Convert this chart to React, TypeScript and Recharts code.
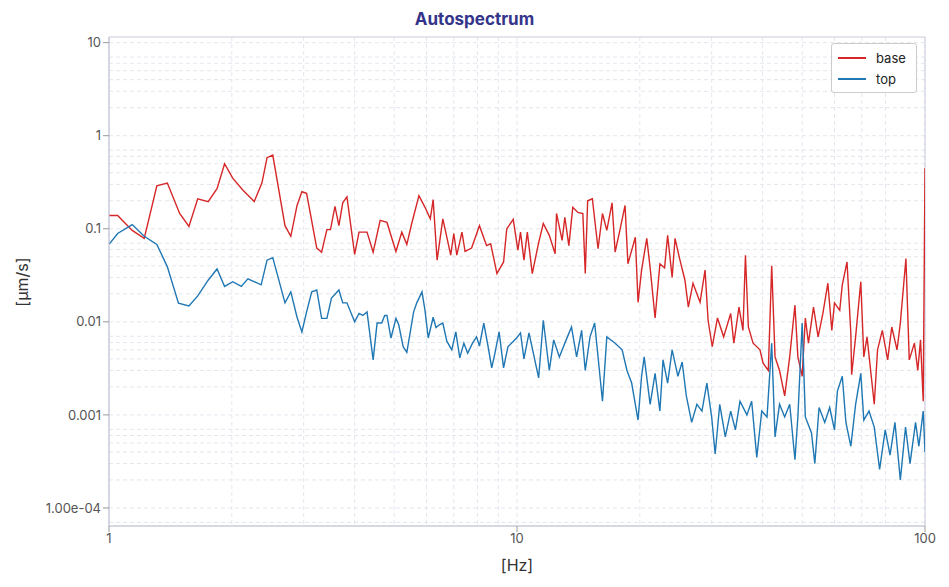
import { CartesianGrid, Line, LineChart, ReferenceArea, XAxis, YAxis } from "recharts";

const baseFreq = [1.0, 1.05, 1.14, 1.22, 1.31, 1.39, 1.49, 1.57, 1.65, 1.75, 1.84, 1.92, 2.01, 2.13, 2.27, 2.37, 2.44, 2.52, 2.7, 2.79, 2.89, 2.97, 3.05, 3.23, 3.32, 3.42, 3.49, 3.58, 3.66, 3.74, 3.83, 4.0, 4.1, 4.29, 4.44, 4.62, 4.8, 5.05, 5.22, 5.37, 5.52, 5.75, 5.95, 6.13, 6.23, 6.37, 6.58, 6.88, 7.0, 7.12, 7.33, 7.46, 7.74, 8.09, 8.42, 8.62, 8.93, 9.27, 9.44, 9.79, 10.05,
  10.2, 10.4, 10.6, 10.9, 11.3, 11.6, 12.0, 12.4, 12.5, 12.9, 13.1, 13.4, 13.7, 14.1, 14.5, 14.7, 14.9, 15.3, 15.8, 16.2, 16.6, 17.1, 17.4, 17.9, 18.4, 18.7, 19.5, 19.8, 20.2, 20.8, 21.2, 21.8, 22.4, 23.0, 23.4, 24.0, 24.4, 25.0, 25.8, 26.3, 27.0, 28.1, 28.9, 29.4, 30.1, 31.0, 32.1, 33.4, 34.0, 35.0, 35.8, 36.3, 36.9, 37.9, 39.4, 40.1, 41.3, 42.1, 42.9, 44.0, 45.3, 46.6, 48.0, 48.8, 50.0, 50.9, 51.8, 53.3, 54.7, 56.2, 57.8, 59.1, 60.0, 61.8, 62.7, 64.4, 65.8, 66.1, 67.6, 69.6, 70.8, 72.1, 75.1, 76.5, 78.6, 81.0, 82.9, 85.4, 87.0, 89.8, 91.5, 94.2, 96.0, 97.5, 99.0, 100];
const baseVal = [0.139, 0.139, 0.096, 0.079, 0.29, 0.31, 0.146, 0.106, 0.21, 0.196, 0.27, 0.5, 0.35, 0.26, 0.196, 0.31, 0.58, 0.62, 0.108, 0.083, 0.178, 0.25, 0.24, 0.062, 0.056, 0.098, 0.098, 0.174, 0.108, 0.19, 0.22, 0.053, 0.092, 0.092, 0.056, 0.123, 0.117, 0.057, 0.092, 0.068, 0.114, 0.227, 0.17, 0.128, 0.206, 0.046, 0.128, 0.052, 0.089, 0.052, 0.092, 0.057, 0.062, 0.108, 0.066, 0.069, 0.033, 0.044, 0.1, 0.126, 0.059,
  0.092, 0.046, 0.092, 0.033, 0.071, 0.114, 0.085, 0.054, 0.146, 0.075, 0.133, 0.066, 0.17, 0.15, 0.146, 0.033, 0.2, 0.21, 0.061, 0.146, 0.096, 0.19, 0.056, 0.1, 0.178, 0.042, 0.081, 0.0162, 0.036, 0.079, 0.038, 0.011, 0.042, 0.038, 0.085, 0.03, 0.079, 0.049, 0.028, 0.0144, 0.026, 0.0162, 0.036, 0.0104, 0.0054, 0.011, 0.0069, 0.0123, 0.0059, 0.0144, 0.0081, 0.052, 0.0088, 0.0059, 0.005, 0.0036, 0.003, 0.04, 0.0042, 0.003, 0.0016, 0.0042, 0.0151, 0.0042, 0.0026, 0.011, 0.0059, 0.0144, 0.0069, 0.0123, 0.026, 0.0081, 0.016, 0.0133, 0.025, 0.044, 0.0075, 0.0027, 0.0069, 0.027, 0.0042, 0.0069, 0.0013, 0.005, 0.0081, 0.0039, 0.0088, 0.005, 0.0097, 0.048, 0.0039, 0.0059, 0.003, 0.0064, 0.0014, 0.45];

const topFreq = [1.0, 1.05, 1.14, 1.22, 1.31, 1.39, 1.48, 1.57, 1.65, 1.75, 1.84, 1.92, 2.01, 2.11, 2.19, 2.36, 2.44, 2.52, 2.7, 2.79, 2.89, 2.97, 3.05, 3.14, 3.23, 3.32, 3.42, 3.51, 3.66, 3.74, 3.83, 4.0, 4.1, 4.19, 4.29, 4.44, 4.54, 4.66, 4.74, 4.8, 4.91, 5.05, 5.13, 5.26, 5.37, 5.58, 5.68, 5.85, 5.95, 6.06, 6.23, 6.33, 6.45, 6.58, 6.73, 6.92, 7.08, 7.24, 7.41, 7.57, 7.78, 7.96, 8.09, 8.29, 8.49, 8.67, 8.82, 9.04, 9.27, 9.5, 9.98,
  10.2, 10.4, 10.7, 11.3, 11.6, 12.0, 12.3, 12.7, 13.2, 13.6, 14.0, 14.4, 14.7, 15.1, 15.5, 16.2, 16.6, 17.4, 18.1, 18.6, 19.1, 19.8, 20.2, 20.5, 21.2, 21.8, 22.4, 22.8, 23.4, 24.0, 24.8, 25.4, 26.0, 26.8, 27.6, 28.4, 29.2, 30.0, 30.6, 31.4, 32.4, 33.4, 34.3, 35.2, 36.6, 37.6, 38.7, 39.8, 41.0, 42.1, 42.9, 44.0, 45.3, 46.6, 48.0, 48.8, 50.0, 50.9, 52.7, 53.7, 55.0, 56.8, 58.4, 60.0, 61.0, 62.7, 64.0, 65.8, 67.6, 69.6, 70.8, 72.9, 75.1, 77.4, 79.9, 82.1, 84.4, 87.0, 89.6, 91.9, 94.8, 96.6, 99.0, 100];
const topVal = [0.068, 0.089, 0.111, 0.083, 0.068, 0.039, 0.0159, 0.0148, 0.019, 0.028, 0.037, 0.024, 0.027, 0.024, 0.029, 0.025, 0.046, 0.049, 0.016, 0.021, 0.0112, 0.0078, 0.0128, 0.021, 0.022, 0.0109, 0.0109, 0.018, 0.022, 0.016, 0.016, 0.01, 0.0123, 0.0117, 0.0128, 0.0039, 0.0097, 0.0097, 0.0117, 0.0117, 0.0067, 0.0109, 0.0093, 0.0054, 0.0047, 0.0128, 0.016, 0.021, 0.0133, 0.0067, 0.0112, 0.0087, 0.0093, 0.0097, 0.0062, 0.005, 0.0078, 0.0041, 0.0059, 0.0046, 0.0059, 0.0069, 0.0055, 0.0097, 0.0055, 0.0032, 0.0045, 0.0078, 0.0032, 0.0054, 0.0067,
  0.0076, 0.004, 0.0076, 0.0025, 0.0104, 0.003, 0.0064, 0.0042, 0.0064, 0.0088, 0.0042, 0.0081, 0.003, 0.0069, 0.0097, 0.0014, 0.0069, 0.0059, 0.005, 0.003, 0.0022, 0.00088, 0.0026, 0.0042, 0.0013, 0.0028, 0.0011, 0.0039, 0.0022, 0.005, 0.0026, 0.0037, 0.0016, 0.00083, 0.0013, 0.0011, 0.0022, 0.00095, 0.00038, 0.0013, 0.00058, 0.0011, 0.00069, 0.0014, 0.001, 0.0014, 0.00035, 0.0011, 0.00095, 0.0059, 0.00058, 0.0013, 0.00095, 0.0013, 0.00033, 0.00095, 0.0097, 0.00095, 0.00064, 0.0003, 0.0012, 0.00083, 0.0012, 0.00069, 0.0018, 0.0026, 0.00083, 0.00046, 0.0013, 0.0028, 0.00088, 0.0011, 0.00074, 0.00026, 0.00069, 0.00037, 0.00083, 0.0002, 0.00074, 0.0003, 0.00083, 0.00046, 0.0011, 0.0004];

const xTicks = [1, 10, 100];
const yTicks = [1e-4, 0.001, 0.01, 0.1, 1, 10];
const yLabels = ["1.00e-04", "0.001", "0.01", "0.1", "1", "10"];

const baseData = baseFreq.map((f, i) => ({ f, v: baseVal[i] }));
const topData = topFreq.map((f, i) => ({ f, v: topVal[i] }));

const Y_MIN = 6.4e-5;
const Y_MAX = 11.5;

// minor grid values for log axes
const minorX: number[] = [];
[1, 10].forEach((d) => [1, 2, 3, 4, 5, 6, 7, 8, 9].forEach((m) => minorX.push(d * m)));
minorX.push(100);
const minorY: number[] = [];
[1e-5, 1e-4, 1e-3, 1e-2, 0.1, 1, 10].forEach((d) =>
  [1, 2, 3, 4, 5, 6, 7, 8, 9].forEach((m) => {
    const v = d * m;
    if (v >= Y_MIN && v <= Y_MAX) minorY.push(v);
  })
);

const font = "Inter, 'Noto Sans', sans-serif";

export default function App() {
  return (
    <div style={{ position: "absolute", left: 0, top: 0, width: 949, height: 587, background: "#fff", fontFamily: font }}>
      <div style={{ position: "absolute", top: 9, width: 949, textAlign: "center", fontWeight: 700, fontSize: 17, color: "#34348a" }}>
        Autospectrum
      </div>
      <div style={{ position: "absolute", top: 555, left: 109, width: 816, textAlign: "center", fontSize: 16, color: "#333" }}>
        [Hz]
      </div>
      <div style={{ position: "absolute", left: 22, top: 282, transform: "translate(-50%, -50%) rotate(-90deg)", fontSize: 16, color: "#333", whiteSpace: "nowrap" }}>
        [μm/s]
      </div>
      <LineChart width={949} height={587} margin={{ top: 37, right: 24, bottom: 21, left: 0 }}>
        <CartesianGrid
          stroke="#e4e6ee"
          strokeDasharray="4 3"
          verticalValues={minorX}
          horizontalValues={minorY}
        />
        <XAxis
          dataKey="f"
          type="number"
          scale="log"
          domain={[1, 100]}
          ticks={xTicks}
          allowDataOverflow
          height={40}
          tick={{ fill: "#555", fontSize: 13 }}
          tickLine={{ stroke: "#999" }}
          axisLine={{ stroke: "#c8cadb" }}
        />
        <YAxis
          dataKey="v"
          type="number"
          scale="log"
          domain={[Y_MIN, Y_MAX]}
          ticks={yTicks}
          allowDataOverflow
          width={109}
          tick={{ fill: "#555", fontSize: 13 }}
          tickLine={{ stroke: "#999" }}
          axisLine={{ stroke: "#c8cadb" }}
          tickFormatter={(v: number) => yLabels[yTicks.findIndex((t) => Math.abs(t - v) / t < 1e-6)] ?? ""}
        />
        <ReferenceArea x1={1} x2={100} y1={Y_MIN} y2={Y_MAX} fill="none" stroke="#c8cadb" ifOverflow="extendDomain" />
        <Line data={baseData} dataKey="v" name="base" stroke="#d62728" strokeWidth={1.4} dot={false} isAnimationActive={false} />
        <Line data={topData} dataKey="v" name="top" stroke="#1f77b4" strokeWidth={1.4} dot={false} isAnimationActive={false} />
      </LineChart>
      <div style={{ position: "absolute", top: 43, left: 831, width: 86, boxSizing: "border-box", background: "#fff", border: "1px solid #ccc", borderRadius: 3, padding: "3px 6px", fontSize: 13, color: "#222" }}>
        {[["base", "#d62728"], ["top", "#1f77b4"]].map(([n, c]) => (
          <div key={n} style={{ display: "flex", alignItems: "center", height: 21 }}>
            <span style={{ display: "inline-block", width: 28, height: 2, background: c, marginRight: 10 }} />
            {n}
          </div>
        ))}
      </div>
    </div>
  );
}
